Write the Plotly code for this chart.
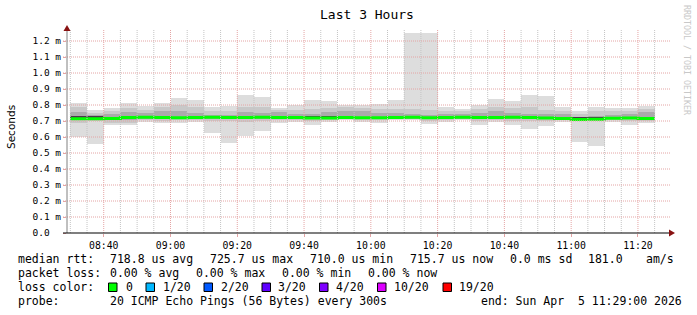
import plotly.graph_objects as go
import pandas as pd

# ---------------- data (values in ms) ----------------
bin_start = pd.date_range("2026-04-05 08:30", periods=35, freq="5min")

ping_min = [0.598, 0.556, 0.675, 0.675, 0.696, 0.685, 0.685, 0.696, 0.623, 0.565,
            0.606, 0.637, 0.685, 0.696, 0.675, 0.696, 0.706, 0.696, 0.690, 0.706,
            0.706, 0.681, 0.696, 0.706, 0.675, 0.696, 0.675, 0.650, 0.669, 0.696,
            0.571, 0.546, 0.696, 0.675, 0.685]
ping_max = [0.810, 0.769, 0.780, 0.810, 0.794, 0.810, 0.844, 0.831, 0.790, 0.794,
            0.862, 0.848, 0.780, 0.800, 0.831, 0.825, 0.800, 0.800, 0.806, 0.831,
            1.252, 1.252, 0.790, 0.775, 0.800, 0.838, 0.825, 0.862, 0.856, 0.790,
            0.762, 0.790, 0.780, 0.783, 0.794]
band2_lo = [0.690, 0.700, 0.690, 0.690, 0.705, 0.700, 0.705, 0.705, 0.700, 0.700,
            0.695, 0.700, 0.705, 0.705, 0.700, 0.705, 0.710, 0.705, 0.705, 0.710,
            0.712, 0.700, 0.705, 0.710, 0.700, 0.705, 0.700, 0.700, 0.700, 0.705,
            0.700, 0.700, 0.705, 0.700, 0.700]
band2_hi = [0.789, 0.752, 0.765, 0.780, 0.770, 0.790, 0.800, 0.790, 0.760, 0.760,
            0.790, 0.785, 0.770, 0.770, 0.775, 0.780, 0.785, 0.780, 0.775, 0.775,
            0.775, 0.770, 0.765, 0.760, 0.775, 0.785, 0.780, 0.785, 0.770, 0.765,
            0.745, 0.760, 0.760, 0.765, 0.775]
band3_lo = [0.705, 0.708, 0.705, 0.708, 0.712, 0.712, 0.712, 0.712, 0.712, 0.712,
            0.710, 0.712, 0.712, 0.712, 0.710, 0.710, 0.714, 0.712, 0.712, 0.714,
            0.715, 0.712, 0.712, 0.714, 0.712, 0.712, 0.712, 0.712, 0.712, 0.710,
            0.705, 0.705, 0.712, 0.710, 0.710]
band3_hi = [0.758, 0.735, 0.745, 0.755, 0.750, 0.765, 0.760, 0.748, 0.740, 0.740,
            0.755, 0.752, 0.755, 0.745, 0.745, 0.755, 0.765, 0.760, 0.750, 0.750,
            0.745, 0.740, 0.745, 0.745, 0.750, 0.760, 0.750, 0.745, 0.745, 0.745,
            0.728, 0.730, 0.740, 0.745, 0.755]
# densest pings just above the median (None = not visible)
core_hi = [0.730, 0.729, None, None, None, None, None, None, None, None,
           None, None, None, None, 0.734, 0.734, None, None, None, None,
           None, None, None, None, None, None, None, None, None, None,
           0.726, 0.727, None, None, None]
median_rtt = [0.714, 0.714, 0.716, 0.722, 0.723, 0.722, 0.721, 0.722, 0.723, 0.722,
              0.722, 0.723, 0.722, 0.722, 0.718, 0.718, 0.722, 0.721, 0.721, 0.722,
              0.723, 0.721, 0.722, 0.723, 0.722, 0.722, 0.723, 0.722, 0.718, 0.716,
              0.710, 0.711, 0.717, 0.719, 0.7157]

y_tick_vals = [0.0, 0.1, 0.2, 0.3, 0.4, 0.5, 0.6, 0.7, 0.8, 0.9, 1.0, 1.1, 1.2]
y_tick_text = ["0.0\u00a0\u00a0", "0.1 m", "0.2 m", "0.3 m", "0.4 m", "0.5 m", "0.6 m",
               "0.7 m", "0.8 m", "0.9 m", "1.0 m", "1.1 m", "1.2 m"]
x_major = pd.date_range("2026-04-05 08:40", "2026-04-05 11:20", freq="20min")
x_minor = pd.date_range("2026-04-05 08:30", "2026-04-05 11:25", freq="5min")

loss_labels = ["0", "1/20", "2/20", "3/20", "4/20", "10/20", "19/20"]
loss_colors = ["#00ff00", "#00b8ff", "#0059ff", "#5e00ff", "#7e00ff", "#dd00ff", "#ff0000"]

# ---------------- geometry helpers (layout only) ----------------
W, H = 697, 315
L, R, T, B = 67, 29, 30, 82
PW, PH = W - L - R, H - T - B
def px(x):
    return (x - L) / PW
def py(y):
    return (H - B - y) / PH

MONO = "DejaVu Sans Mono"
step = pd.Timedelta("5min")
centers = [t + step / 2 for t in bin_start]

fig = go.Figure()
for lo, hi, col in [(ping_min, ping_max, "#dddddd"),
                    (band2_lo, band2_hi, "#c8c8c8"),
                    (band3_lo, band3_hi, "#aaaaaa")]:
    fig.add_trace(go.Bar(x=centers, y=[h - l for l, h in zip(lo, hi)], base=lo,
                         width=300000, marker=dict(color=col, line=dict(width=0)),
                         hoverinfo="skip", showlegend=False))

fig.add_trace(go.Bar(x=centers,
                     y=[None if c is None else c - m for m, c in zip(median_rtt, core_hi)],
                     base=median_rtt, width=300000,
                     marker=dict(color="#4a3a4a", line=dict(width=0)),
                     hoverinfo="skip", showlegend=False))

fig.add_trace(go.Scatter(x=list(bin_start) + [bin_start[-1] + step],
                         y=median_rtt + [median_rtt[-1]],
                         mode="lines", line=dict(color="#00ff00", width=3, shape="hv"),
                         hoverinfo="skip", showlegend=False))

shapes = []
major_set = set(x_major)
for t in x_minor:
    if t in major_set:
        continue
    shapes.append(dict(type="line", xref="x", yref="paper", x0=t, x1=t, y0=0, y1=1,
                       line=dict(color="#c4c4c4", width=1, dash="1px,1px"), layer="above"))
for t in x_major:
    shapes.append(dict(type="line", xref="x", yref="paper", x0=t, x1=t, y0=0, y1=1,
                       line=dict(color="#e4a4a4", width=1, dash="1px,1px"), layer="above"))
for v in y_tick_vals[1:]:
    shapes.append(dict(type="line", xref="paper", yref="y", x0=px(63), x1=px(671), y0=v, y1=v,
                       line=dict(color="#e4a4a4", width=1, dash="1px,1px"), layer="above"))
# axes
shapes.append(dict(type="line", xref="paper", yref="paper", x0=0, x1=0, y0=py(233), y1=py(31),
                   line=dict(color="#808080", width=1), layer="above"))
shapes.append(dict(type="line", xref="paper", yref="paper", x0=px(63), x1=px(670), y0=0, y1=0,
                   line=dict(color="#000000", width=1.2), layer="above"))
shapes.append(dict(type="path", xref="paper", yref="paper",
                   path=f"M {px(63.5)} {py(31)} L {px(70.5)} {py(31)} L {px(67)} {py(25)} Z",
                   fillcolor="#881111", line=dict(width=0), layer="above"))
shapes.append(dict(type="path", xref="paper", yref="paper",
                   path=f"M {px(669)} {py(229.5)} L {px(669)} {py(236.5)} L {px(675)} {py(233)} Z",
                   fillcolor="#881111", line=dict(width=0), layer="above"))
# legend colour boxes
box_x = [108.5, 146, 204, 262, 319.5, 377.5, 443]
for bx, col in zip(box_x, loss_colors):
    shapes.append(dict(type="rect", xref="paper", yref="paper",
                       x0=px(bx), x1=px(bx + 8.5), y0=py(291.5), y1=py(283),
                       fillcolor=col, line=dict(color="#000000", width=1)))

ann = []
def txt(x, y, s, size=11.5, anchor="left", family=MONO, color="#000000", angle=0):
    ann.append(dict(x=px(x), y=py(y), xref="paper", yref="paper", text=s, showarrow=False,
                    xanchor=anchor, yanchor="middle", textangle=angle,
                    font=dict(family=family, size=size, color=color)))

txt(367, 14, "Last 3 Hours", size=13, anchor="center")
txt(11, 127, "Seconds", size=10.5, anchor="center", family="DejaVu Sans", angle=-90)
txt(687, 60, "RRDTOOL / TOBI OETIKER", size=8.3, anchor="center", color="#c8c8c8", angle=90)

r1, r2, r3, r4 = 259.3, 273.3, 287.3, 301.3
txt(16, r1, "median rtt:")
for x, s in [(108, "718.8 us avg"), (208, "725.7 us max"), (308, "710.0 us min"),
             (408, "715.7 us now"), (508, "0.0 ms sd"), (586, "181.0"), (643.5, "am/s")]:
    txt(x, r1, s)
txt(16, r2, "packet loss:")
for x, s in [(108, "0.00 % avg"), (194, "0.00 % max"), (280, "0.00 % min"), (366, "0.00 % now")]:
    txt(x, r2, s)
txt(16, r3, "loss color:")
label_x = [124, 160.5, 218.5, 276, 334, 391.5, 457]
for x, s in zip(label_x, loss_labels):
    txt(x, r3, s)
txt(16, r4, "probe:")
txt(108, r4, "20 ICMP Echo Pings (56 Bytes) every 300s")
txt(479, r4, "end: Sun Apr\u00a0\u00a05 11:29:00 2026")

fig.update_layout(
    width=W, height=H, margin=dict(l=L, r=R, t=T, b=B, pad=0),
    paper_bgcolor="#ffffff", plot_bgcolor="#ffffff",
    barmode="overlay", bargap=0, showlegend=False,
    shapes=shapes, annotations=ann,
    xaxis=dict(type="date", range=["2026-04-05 08:29", "2026-04-05 11:29"],
               tickvals=list(x_major), ticktext=[t.strftime("%H:%M") for t in x_major],
               showgrid=False, zeroline=False, showline=False,
               ticks="outside", ticklen=3, tickcolor="#e4a4a4",
               tickfont=dict(family=MONO, size=9.8, color="#000000")),
    yaxis=dict(range=[0, PH / 160], tickvals=y_tick_vals, ticktext=y_tick_text,
               showgrid=False, zeroline=False, showline=False,
               ticks="outside", ticklen=3, tickcolor="#e4a4a4",
               tickfont=dict(family=MONO, size=9.5, color="#000000")),
)

fig.write_html("out.html")
